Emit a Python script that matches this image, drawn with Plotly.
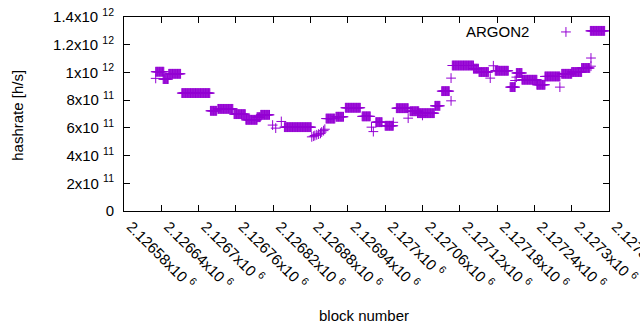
import plotly.graph_objects as go

# Runs of consecutive blocks sharing the same hashrate estimate (value in 1e12 h/s)
run_start = [2126631, 2126643, 2126652, 2126673, 2126719, 2126731, 2126757, 2126776, 2126794, 2126800,
             2126838, 2126905, 2126921, 2126936, 2126963, 2126985, 2127000, 2127018, 2127040, 2127052,
             2127080, 2127091, 2127108, 2127142, 2127151, 2127177, 2127201, 2127211, 2127220, 2127244,
             2127257, 2127284, 2127300, 2127316, 2127330]
run_end = [2126644, 2126651, 2126671, 2126718, 2126729, 2126755, 2126775, 2126794, 2126799, 2126814,
           2126881, 2126919, 2126933, 2126960, 2126976, 2126995, 2127013, 2127037, 2127054, 2127079,
           2127088, 2127103, 2127142, 2127150, 2127166, 2127198, 2127209, 2127220, 2127244, 2127257,
           2127281, 2127300, 2127316, 2127329, 2127353]
run_value = [1.005, 0.952, 0.990, 0.851, 0.723, 0.737, 0.699, 0.658, 0.677, 0.694,
             0.605, 0.667, 0.680, 0.745, 0.683, 0.641, 0.615, 0.742, 0.720, 0.706,
             0.759, 0.865, 1.050, 1.027, 1.003, 1.012, 0.894, 0.996, 0.947, 0.911,
             0.971, 0.990, 1.003, 1.032, 1.300]

# Isolated blocks
single_block = [2126631, 2126819, 2126824, 2126833, 2126882, 2126885, 2126887, 2126890, 2126893,
                2126896, 2126898, 2126901, 2126903, 2126978, 2126981, 2127013, 2127037, 2127060,
                2127106, 2127106, 2127169, 2127174, 2127209, 2127211, 2127281, 2127331, 2127331]
single_value = [0.957, 0.620, 0.598, 0.646, 0.535, 0.540, 0.545, 0.550, 0.555,
                0.560, 0.570, 0.580, 0.590, 0.605, 0.573, 0.640, 0.670, 0.690,
                0.795, 0.959, 0.959, 1.048, 0.942, 0.966, 0.894, 1.104, 1.045]

x_tickvals = [2126580, 2126640, 2126700, 2126760, 2126820, 2126880, 2126940,
              2127000, 2127060, 2127120, 2127180, 2127240, 2127300, 2127360]
x_ticktext = ["2.12658x10 <sup>6</sup>", "2.12664x10 <sup>6</sup>", "2.1267x10 <sup>6</sup>",
              "2.12676x10 <sup>6</sup>", "2.12682x10 <sup>6</sup>", "2.12688x10 <sup>6</sup>",
              "2.12694x10 <sup>6</sup>", "2.127x10 <sup>6</sup>", "2.12706x10 <sup>6</sup>",
              "2.12712x10 <sup>6</sup>", "2.12718x10 <sup>6</sup>", "2.12724x10 <sup>6</sup>",
              "2.1273x10 <sup>6</sup>", "2.12736x10 <sup>6</sup>"]
y_tickvals = [0, 2e11, 4e11, 6e11, 8e11, 1e12, 1.2e12, 1.4e12]
y_ticktext = ["0", "2x10 <sup>11</sup>", "4x10 <sup>11</sup>", "6x10 <sup>11</sup>", "8x10 <sup>11</sup>",
              "1x10 <sup>12</sup>", "1.2x10 <sup>12</sup>", "1.4x10 <sup>12</sup>"]

xs, ys = [], []
for s, e, v in zip(run_start, run_end, run_value):
    for b in range(s, e + 1):
        xs.append(b)
        ys.append(v * 1e12)
for b, v in zip(single_block, single_value):
    xs.append(b)
    ys.append(v * 1e12)

color = "#9400D3"
FONT = "Liberation Sans, Arial, sans-serif"

fig = go.Figure()
fig.add_trace(go.Scatter(
    x=xs, y=ys, mode="markers", name="ARGON2", showlegend=False,
    marker=dict(symbol="cross-thin", size=7, line=dict(color=color, width=1), color=color),
))
fig.add_trace(go.Scatter(
    x=[None], y=[None], mode="markers", name="", showlegend=True,
    marker=dict(symbol="cross-thin", size=7, line=dict(color=color, width=1), color=color),
))

fig.update_layout(
    width=640, height=330,
    margin=dict(l=124, r=31, t=17, b=119),
    plot_bgcolor="white", paper_bgcolor="white",
    font=dict(family=FONT, size=15, color="black"),
    showlegend=True,
    legend=dict(x=0.87, y=1.0, xanchor="left", yanchor="top", bgcolor="rgba(0,0,0,0)",
                font=dict(size=13), itemwidth=30, tracegroupgap=0),
    annotations=[
        dict(text="ARGON2", xref="paper", yref="paper", x=0.84, y=0.925,
             xanchor="right", yanchor="middle", showarrow=False, font=dict(size=15, family=FONT)),
        dict(text="block number", xref="paper", yref="paper", x=0.495, y=-0.541,
             xanchor="center", yanchor="middle", showarrow=False, font=dict(size=15, family=FONT)),
        dict(text="hashrate [h/s]", xref="paper", yref="paper", x=-0.219, y=0.495, textangle=-90,
             xanchor="center", yanchor="middle", showarrow=False, font=dict(size=15, family=FONT)),
    ],
)
fig.update_xaxes(
    range=[2126580, 2127360], tickvals=x_tickvals, ticktext=x_ticktext, tickangle=45,
    ticks="inside", ticklen=6, tickcolor="black", showline=True, linecolor="black", linewidth=1,
    mirror="ticks", showgrid=False, zeroline=False, automargin=False, ticklabelshift=7,
    ticklabeloverflow="allow", tickfont=dict(size=15),
)
fig.update_yaxes(
    range=[0, 1.4e12], tickvals=y_tickvals, ticktext=y_ticktext,
    ticks="inside", ticklen=6, tickcolor="black", showline=True, linecolor="black", linewidth=1,
    mirror="ticks", showgrid=False, zeroline=False, ticklabelstandoff=6, automargin=False,
    tickfont=dict(size=15),
)
fig.write_html("out.html", post_script="document.body.style.margin='0';",
               config={"displayModeBar": False})
